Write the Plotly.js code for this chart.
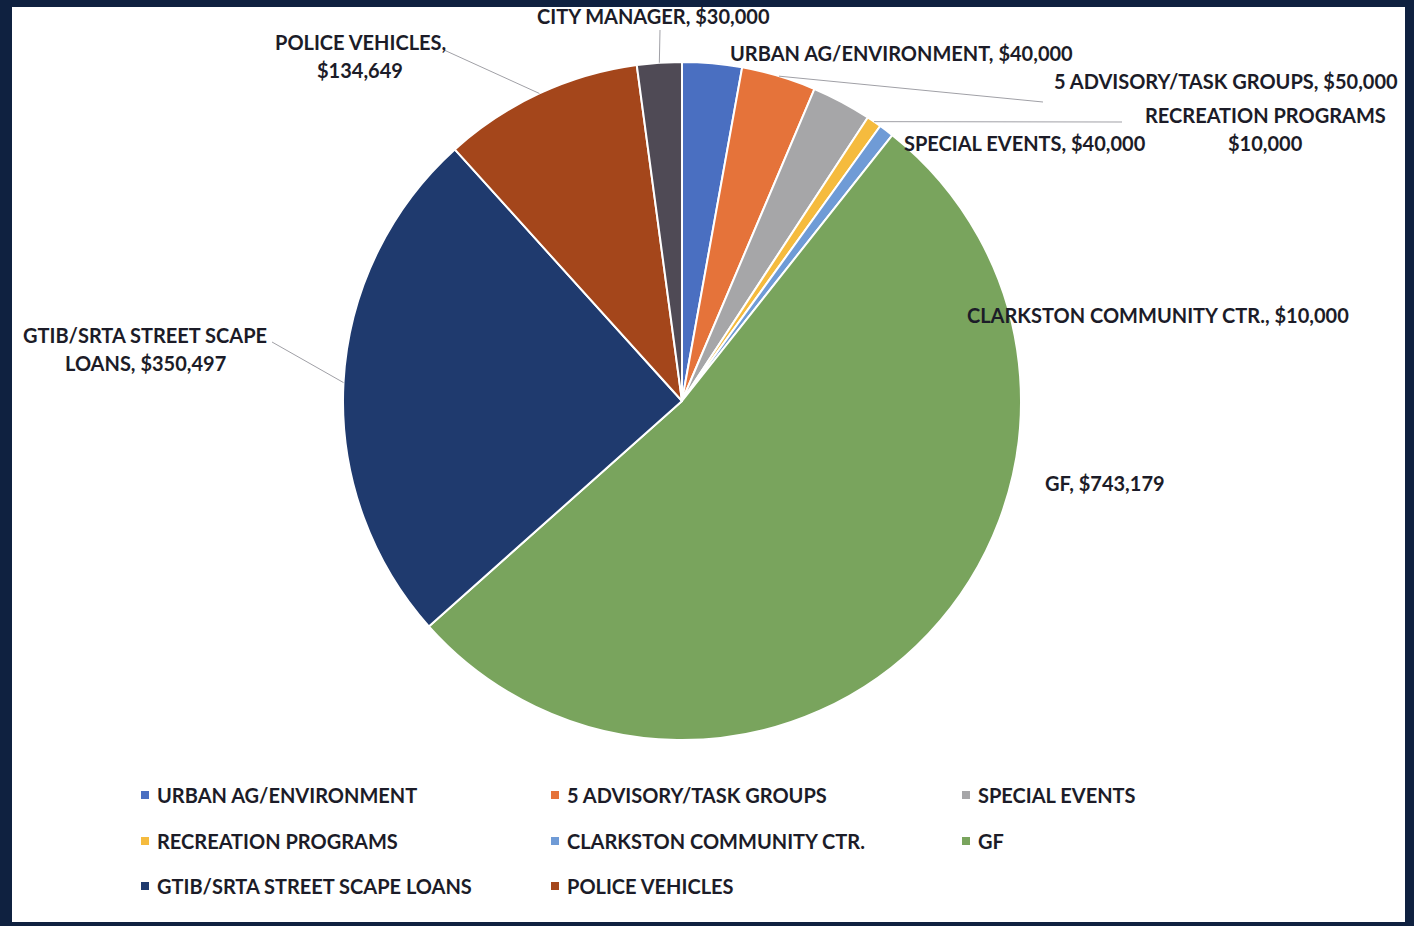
<!DOCTYPE html>
<html>
<head>
<meta charset="utf-8">
<script src="https://cdn.plot.ly/plotly-3.0.1.min.js"></script>
<style>
  html, body { margin: 0; padding: 0; background: #ffffff; }
  #chart { width: 1414px; height: 926px; }
</style>
</head>
<body>
<div id="chart"></div>
<script>
// ---- data ----
const categories = ['URBAN AG/ENVIRONMENT', '5 ADVISORY/TASK GROUPS', 'SPECIAL EVENTS', 'RECREATION PROGRAMS',
  'CLARKSTON COMMUNITY CTR.', 'GF', 'GTIB/SRTA STREET SCAPE LOANS', 'POLICE VEHICLES', 'CITY MANAGER'];
const amounts = [40000, 50000, 40000, 10000, 10000, 743179, 350497, 134649, 30000];
const sliceColors = ['#4a6fc1', '#e5733a', '#a6a6a8', '#f5bb3e', '#6f9bd6', '#79a45d', '#1f3a6e', '#a4461b', '#4f4a55'];
const legendCategories = categories.slice(0, 8);

// ---- layout constants (pixels) ----
const W = 1414, H = 926;
const CX = 682, CY = 401, R = 339;
const FONT = 'Lato, "Open Sans", sans-serif';
const TXT = '#1c1c28';
const FS = 20;
const LINE_H = 28;

// label placement: [index, centerX, firstLineY, wrap rule, leader end (px) or null]
const placements = [
  [0, 901, 53, null, null],
  [1, 1226, 81, null, [1043, 102]],
  [2, 1025, 143, null, null],
  [3, 1265, 115, ['RECREATION PROGRAMS, ', 'RECREATION PROGRAMS|'], [1122, 122]],
  [4, 1158, 315, null, null],
  [5, 1105, 483, null, null],
  [6, 145, 335, ['SCAPE LOANS', 'SCAPE|LOANS'], [272, 342]],
  [7, 360, 42, ['VEHICLES, ', 'VEHICLES,|'], [444, 50]],
  [8, 653, 16, null, [660, 30]]
];

const px = x => x / W;
const py = y => 1 - y / H;
const fmtMoney = v => '$' + v.toLocaleString('en-US');

const total = amounts.reduce((a, b) => a + b, 0);
const midAngles = [];
let acc = 0;
amounts.forEach(v => { midAngles.push((acc + v / 2) / total * 360); acc += v; });

const annotations = [];
const shapes = [];

placements.forEach(([i, x, y, wrap, lead]) => {
  let txt = categories[i] + ', ' + fmtMoney(amounts[i]);
  if (wrap) txt = txt.replace(wrap[0], wrap[1]);
  txt.split('|').forEach((line, k) => {
    annotations.push({
      xref: 'paper', yref: 'paper', x: px(x), y: py(y + k * LINE_H),
      xanchor: 'center', yanchor: 'middle', showarrow: false,
      text: '<b>' + line + '</b>', font: { family: FONT, size: FS, color: TXT }
    });
  });
  if (lead) {
    const a = midAngles[i] * Math.PI / 180;
    const ex = CX + R * Math.sin(a), ey = CY - R * Math.cos(a);
    shapes.push({
      type: 'line', xref: 'paper', yref: 'paper',
      x0: px(ex), y0: py(ey), x1: px(lead[0]), y1: py(lead[1]),
      line: { color: '#a0a0a6', width: 1 }
    });
  }
});

// legend grid (3 columns)
const legCols = [141, 551, 962], legRows = [795, 841, 886];
legendCategories.forEach((c, i) => {
  const col = legCols[i % 3], row = legRows[Math.floor(i / 3)];
  shapes.push({
    type: 'rect', xref: 'paper', yref: 'paper',
    x0: px(col), x1: px(col + 8), y0: py(row - 4), y1: py(row + 4),
    fillcolor: sliceColors[i], line: { width: 0 }
  });
  annotations.push({
    xref: 'paper', yref: 'paper', x: px(col + 14), y: py(row),
    xanchor: 'left', yanchor: 'middle', showarrow: false,
    text: '<b>' + c + '</b>', font: { family: FONT, size: FS, color: TXT }
  });
});

// frame
const frame = '#0f2140';
[[0, 0, 12, H], [0, 0, W, 7], [1405, 0, W, H], [0, 922, W, H]].forEach(([x0, y0, x1, y1]) => {
  shapes.push({ type: 'rect', xref: 'paper', yref: 'paper', x0: px(x0), x1: px(x1), y0: py(y1), y1: py(y0),
    fillcolor: frame, line: { width: 0 }, layer: 'above' });
});

const trace = {
  type: 'pie',
  labels: categories,
  values: amounts,
  sort: false,
  direction: 'clockwise',
  rotation: 0,
  textinfo: 'none',
  hoverinfo: 'label+value',
  marker: { colors: sliceColors, line: { color: '#ffffff', width: 2 } },
  domain: { x: [px(CX - R), px(CX + R)], y: [py(CY + R), py(CY - R)] },
  showlegend: false
};

const layout = {
  width: W, height: H,
  margin: { l: 0, r: 0, t: 0, b: 0 },
  paper_bgcolor: '#ffffff',
  showlegend: false,
  annotations: annotations,
  shapes: shapes
};

Plotly.newPlot('chart', [trace], layout, { displayModeBar: false, staticPlot: true });
</script>
</body>
</html>
